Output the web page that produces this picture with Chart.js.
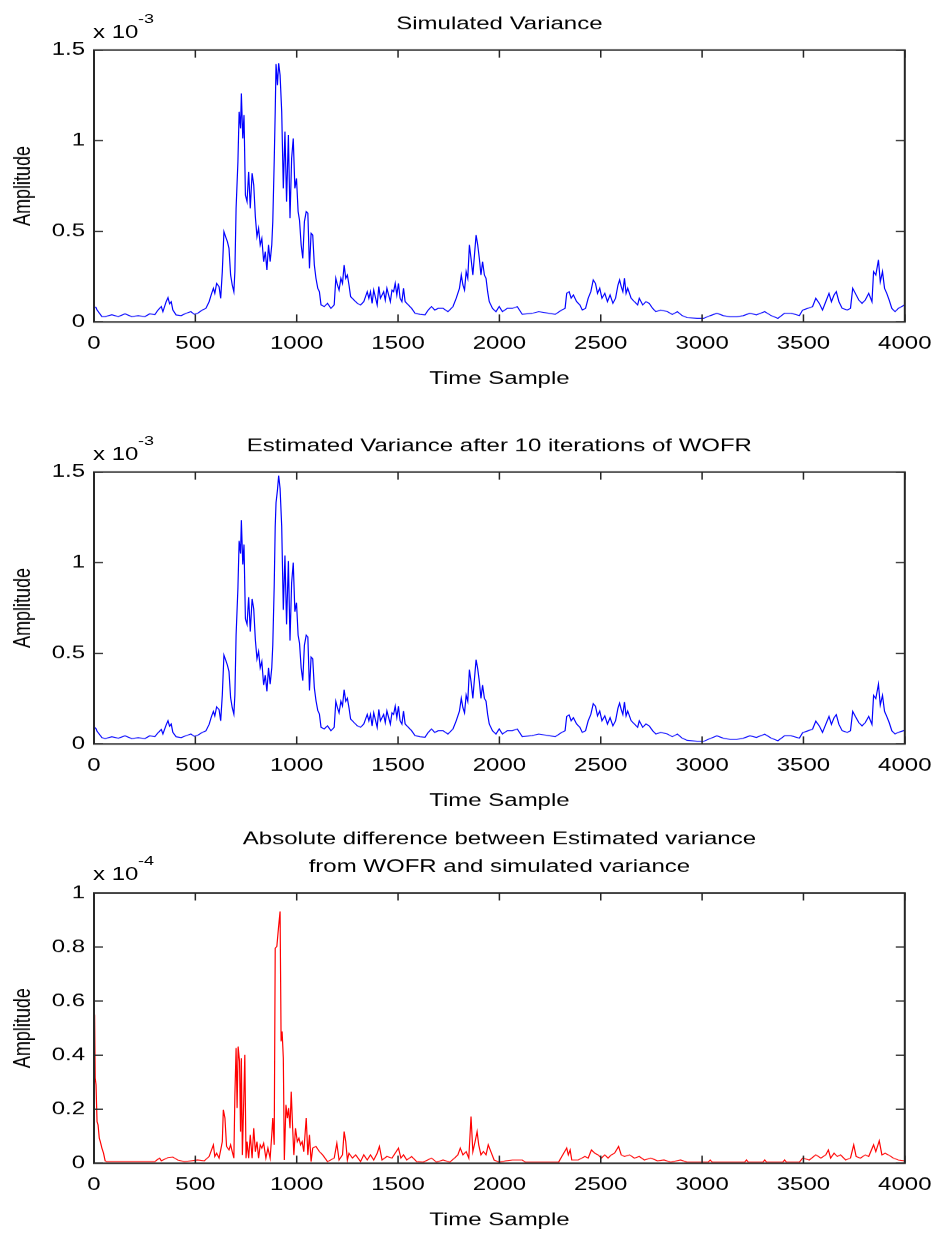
<!DOCTYPE html>
<html>
<head>
<meta charset="utf-8">
<script src="https://cdn.jsdelivr.net/npm/chart.js@4.4.1/dist/chart.umd.min.js"></script>
<style>
html,body{margin:0;padding:0;background:#fff;width:946px;height:1233px;overflow:hidden;font-family:"Liberation Sans",Arial,sans-serif;}
.panel{position:absolute;left:0;width:946px;transform:scaleY(0.75);transform-origin:0 0;}
.panel canvas{position:absolute;left:0;top:0;}
.mult{position:absolute;left:93px;font-size:24px;line-height:24px;color:#000;white-space:nowrap;}
.sup{position:absolute;left:138px;font-size:18px;line-height:18px;color:#000;white-space:nowrap;}
</style>
</head>
<body>
<div class="panel" style="top:0px;height:520px;"><canvas id="c1" width="946" height="520"></canvas><div class="mult" style="top:30px">x 10</div><div class="sup" style="top:15px">-3</div></div>
<div class="panel" style="top:422px;height:520px;"><canvas id="c2" width="946" height="520"></canvas><div class="mult" style="top:30px">x 10</div><div class="sup" style="top:15px">-3</div></div>
<div class="panel" style="top:815px;height:555px;"><canvas id="c3" width="946" height="555"></canvas><div class="mult" style="top:67px">x 10</div><div class="sup" style="top:52px">-4</div></div>
<script>
// ---------- data ----------
const xTicksLabels = ["0","500","1000","1500","2000","2500","3000","3500","4000"];
const titleSim = "Simulated Variance";
const titleEst = "Estimated Variance after 10 iterations of WOFR";
const titleDiff = ["Absolute difference between Estimated variance", "from WOFR and simulated variance"];

// time samples for panels 1 and 2
const timeA = [
  0,10,15,39,55,88,120,153,186,218,
  251,275,300,316,332,340,356,365,373,381,
  389,405,430,454,478,495,511,535,552,568,
  579,589,596,605,617,625,633,641,649,658,
  666,674,682,690,695,701,710,716,723,727,
  734,740,747,755,763,771,780,788,796,804,
  812,820,828,837,845,853,861,869,877,882,
  889,894,898,905,911,918,926,934,942,950,
  959,967,975,983,991,999,1007,1014,1022,1030,
  1038,1047,1055,1063,1071,1079,1087,1095,1104,1112,
  1120,1136,1152,1169,1185,1193,1201,1209,1218,1226,
  1234,1242,1250,1258,1266,1283,1299,1315,1331,1348,
  1356,1364,1372,1380,1397,1405,1413,1429,1437,1445,
  1462,1470,1478,1486,1494,1502,1510,1519,1527,1535,
  1551,1567,1584,1608,1633,1649,1665,1681,1698,1722,
  1746,1771,1787,1803,1812,1820,1828,1836,1844,1852,
  1860,1869,1877,1885,1893,1901,1909,1917,1926,1934,
  1942,1950,1966,1983,1999,2015,2039,2064,2088,2113,
  2161,2194,2243,2275,2308,2324,2332,2344,2354,2365,
  2381,2397,2409,2425,2438,2451,2463,2474,2484,2495,
  2506,2520,2533,2546,2560,2573,2585,2593,2601,2609,
  2617,2625,2633,2650,2666,2682,2690,2707,2723,2739,
  2756,2772,2796,2829,2853,2878,2902,2926,2975,3008,
  3040,3073,3105,3138,3171,3203,3236,3268,3309,3341,
  3374,3407,3439,3480,3496,3521,3545,3561,3578,3594,
  3610,3626,3638,3651,3662,3675,3691,3716,3732,3743,
  3756,3773,3789,3805,3822,3838,3846,3857,3870,3879,
  3890,3900,3911,3923,3936,3952,3968,3984,4000
];

// simulated variance (x 1e-3)
const simulatedVar = [
  0.085,0.080,0.066,0.030,0.030,0.040,0.030,0.045,0.030,0.035,
  0.030,0.045,0.040,0.066,0.085,0.057,0.112,0.134,0.100,0.112,
  0.066,0.039,0.035,0.048,0.057,0.042,0.048,0.066,0.075,0.112,
  0.153,0.186,0.158,0.213,0.195,0.131,0.278,0.498,0.471,0.443,
  0.406,0.259,0.204,0.167,0.278,0.627,0.884,1.160,1.068,1.261,
  1.013,1.142,0.700,0.664,0.829,0.627,0.820,0.756,0.581,0.471,
  0.517,0.425,0.461,0.333,0.388,0.287,0.425,0.333,0.425,0.553,
  0.884,1.160,1.423,1.307,1.427,1.362,1.160,0.737,1.050,0.664,
  1.031,0.572,0.903,1.013,0.737,0.792,0.609,0.560,0.425,0.351,
  0.553,0.609,0.600,0.296,0.489,0.480,0.314,0.241,0.186,0.167,
  0.094,0.085,0.103,0.075,0.094,0.241,0.204,0.176,0.241,0.213,
  0.314,0.241,0.259,0.204,0.140,0.121,0.103,0.094,0.112,0.167,
  0.131,0.167,0.103,0.176,0.094,0.195,0.131,0.167,0.121,0.186,
  0.112,0.176,0.167,0.213,0.149,0.213,0.131,0.112,0.186,0.112,
  0.094,0.075,0.048,0.042,0.039,0.066,0.085,0.066,0.075,0.075,
  0.057,0.085,0.131,0.186,0.259,0.204,0.176,0.278,0.241,0.425,
  0.351,0.259,0.370,0.480,0.425,0.351,0.259,0.333,0.259,0.241,
  0.167,0.112,0.075,0.057,0.085,0.057,0.075,0.075,0.085,0.042,
  0.048,0.057,0.048,0.042,0.066,0.075,0.158,0.167,0.131,0.149,
  0.112,0.094,0.066,0.075,0.131,0.167,0.232,0.213,0.158,0.186,
  0.131,0.158,0.112,0.149,0.103,0.131,0.204,0.232,0.195,0.167,
  0.241,0.158,0.186,0.131,0.112,0.094,0.131,0.094,0.112,0.103,
  0.075,0.057,0.066,0.057,0.042,0.057,0.035,0.024,0.020,0.020,
  0.035,0.048,0.035,0.029,0.029,0.035,0.048,0.039,0.057,0.035,
  0.020,0.048,0.048,0.035,0.066,0.075,0.085,0.131,0.103,0.066,
  0.112,0.158,0.112,0.149,0.167,0.112,0.075,0.066,0.075,0.186,
  0.158,0.121,0.103,0.121,0.158,0.112,0.278,0.259,0.342,0.222,
  0.278,0.186,0.158,0.121,0.075,0.057,0.075,0.085,0.094
];

// estimated variance after 10 WOFR iterations (x 1e-3)
const estimatedVar = [
  0.095,0.085,0.070,0.035,0.030,0.040,0.032,0.045,0.030,0.035,
  0.030,0.045,0.040,0.062,0.080,0.055,0.105,0.128,0.098,0.110,
  0.064,0.040,0.035,0.046,0.055,0.042,0.048,0.064,0.072,0.108,
  0.150,0.180,0.155,0.205,0.190,0.128,0.270,0.490,0.465,0.435,
  0.400,0.255,0.200,0.165,0.270,0.600,0.860,1.120,1.050,1.234,
  0.990,1.100,0.690,0.660,0.810,0.620,0.800,0.745,0.575,0.470,
  0.510,0.420,0.455,0.325,0.380,0.290,0.420,0.330,0.420,0.545,
  0.870,1.200,1.330,1.400,1.480,1.410,1.200,0.740,1.040,0.660,
  1.010,0.570,0.890,1.000,0.730,0.780,0.600,0.555,0.420,0.350,
  0.545,0.600,0.590,0.295,0.480,0.470,0.310,0.240,0.185,0.165,
  0.092,0.083,0.100,0.073,0.092,0.235,0.200,0.172,0.236,0.210,
  0.300,0.236,0.252,0.200,0.138,0.118,0.100,0.092,0.110,0.163,
  0.128,0.163,0.100,0.172,0.092,0.190,0.128,0.163,0.118,0.182,
  0.110,0.172,0.163,0.208,0.146,0.208,0.128,0.110,0.182,0.110,
  0.092,0.073,0.046,0.040,0.037,0.064,0.083,0.064,0.073,0.073,
  0.055,0.083,0.128,0.182,0.252,0.200,0.172,0.270,0.236,0.410,
  0.345,0.252,0.360,0.465,0.415,0.345,0.252,0.325,0.252,0.236,
  0.163,0.110,0.073,0.055,0.083,0.055,0.073,0.073,0.083,0.040,
  0.046,0.055,0.046,0.040,0.064,0.073,0.152,0.160,0.128,0.145,
  0.110,0.092,0.064,0.073,0.128,0.163,0.222,0.208,0.155,0.182,
  0.128,0.155,0.110,0.145,0.100,0.128,0.198,0.225,0.190,0.163,
  0.232,0.155,0.182,0.128,0.110,0.092,0.128,0.092,0.110,0.100,
  0.073,0.055,0.064,0.055,0.040,0.055,0.032,0.020,0.015,0.015,
  0.030,0.045,0.032,0.025,0.025,0.032,0.045,0.036,0.054,0.032,
  0.018,0.045,0.045,0.032,0.062,0.072,0.082,0.126,0.100,0.064,
  0.108,0.152,0.108,0.145,0.162,0.108,0.073,0.064,0.073,0.180,
  0.152,0.118,0.100,0.118,0.152,0.108,0.268,0.250,0.330,0.215,
  0.268,0.180,0.152,0.118,0.073,0.055,0.064,0.070,0.075
];

// time samples for panel 3
const timeC = [
  0,3,6,10,15,20,26,31,39,47,
  55,63,300,310,324,332,365,389,413,446,
  478,511,544,568,589,596,605,617,625,633,
  638,646,654,666,674,682,690,695,701,706,
  711,718,723,727,732,739,744,750,755,763,
  771,780,788,796,804,812,820,828,837,848,
  858,869,877,882,889,894,902,910,918,923,
  928,934,939,947,954,960,967,973,980,986,
  994,1003,1011,1019,1027,1035,1047,1055,1063,1071,
  1079,1095,1112,1128,1152,1185,1198,1209,1226,1234,
  1242,1250,1258,1275,1291,1315,1331,1348,1364,1380,
  1397,1408,1421,1445,1470,1491,1502,1514,1527,1543,
  1567,1592,1624,1665,1690,1722,1755,1779,1795,1807,
  1820,1836,1849,1860,1869,1880,1890,1898,1909,1921,
  1934,1945,1958,1974,1999,2031,2064,2113,2129,2292,
  2308,2332,2340,2349,2357,2389,2422,2438,2454,2471,
  2487,2503,2520,2536,2552,2568,2588,2601,2617,2642,
  2666,2690,2715,2747,2780,2812,2845,2894,2926,3030,
  3040,3050,3210,3219,3228,3300,3309,3318,3398,3407,
  3416,3480,3496,3529,3561,3586,3610,3623,3634,3651,
  3667,3683,3708,3732,3748,3760,3781,3805,3822,3846,
  3857,3874,3887,3903,3919,3944,3968,4000
];

// absolute difference (x 1e-4)
const absDiff = [
  0.330,0.550,0.315,0.290,0.154,0.142,0.093,0.080,0.056,0.037,
  0.009,0.006,0.006,0.012,0.019,0.009,0.021,0.023,0.012,0.006,
  0.009,0.012,0.009,0.025,0.068,0.025,0.037,0.019,0.049,0.080,
  0.198,0.167,0.062,0.049,0.068,0.043,0.019,0.253,0.426,0.204,
  0.432,0.377,0.117,0.389,0.031,0.241,0.401,0.019,0.080,0.019,
  0.105,0.019,0.130,0.043,0.080,0.019,0.068,0.056,0.074,0.019,
  0.056,0.019,0.105,0.167,0.068,0.796,0.802,0.870,0.932,0.451,
  0.488,0.389,0.012,0.216,0.167,0.204,0.130,0.265,0.130,0.031,
  0.130,0.080,0.093,0.068,0.080,0.043,0.167,0.031,0.105,0.006,
  0.056,0.062,0.043,0.031,0.006,0.019,0.074,0.012,0.031,0.117,
  0.080,0.012,0.037,0.019,0.031,0.006,0.031,0.012,0.031,0.012,
  0.037,0.062,0.012,0.025,0.019,0.043,0.056,0.019,0.031,0.012,
  0.025,0.006,0.004,0.019,0.004,0.012,0.004,0.019,0.031,0.056,
  0.031,0.043,0.019,0.173,0.043,0.080,0.117,0.068,0.031,0.043,
  0.031,0.068,0.043,0.012,0.004,0.009,0.012,0.012,0.004,0.004,
  0.025,0.056,0.031,0.049,0.012,0.012,0.025,0.019,0.049,0.037,
  0.031,0.019,0.031,0.019,0.031,0.037,0.062,0.031,0.025,0.031,
  0.019,0.025,0.012,0.019,0.009,0.012,0.004,0.012,0.004,0.004,
  0.012,0.004,0.004,0.012,0.004,0.004,0.012,0.004,0.004,0.012,
  0.004,0.004,0.019,0.012,0.031,0.019,0.031,0.049,0.019,0.037,
  0.025,0.031,0.012,0.019,0.068,0.025,0.019,0.031,0.025,0.068,
  0.043,0.083,0.031,0.037,0.031,0.019,0.012,0.009
];

// ---------- rendering ----------
const FONT = '"Liberation Sans", Arial, Helvetica, sans-serif';
Chart.defaults.font.family = FONT;

const frameTicks = {
  id: 'frameTicks',
  afterDatasetsDraw(chart) {
    const {ctx, chartArea: a, scales: {x, y}} = chart;
    ctx.save();
    ctx.strokeStyle = '#262626';
    ctx.lineWidth = 1.5;
    ctx.beginPath();
    x.ticks.forEach(t => {
      const px = x.getPixelForValue(t.value);
      ctx.moveTo(px, a.bottom); ctx.lineTo(px, a.bottom - 10);
      ctx.moveTo(px, a.top); ctx.lineTo(px, a.top + 10);
    });
    y.ticks.forEach(t => {
      const py = y.getPixelForValue(t.value);
      ctx.moveTo(a.left, py); ctx.lineTo(a.left + 9, py);
      ctx.moveTo(a.right, py); ctx.lineTo(a.right - 9, py);
    });
    ctx.stroke();
    ctx.lineWidth = 2;
    ctx.strokeRect(a.left, a.top, a.right - a.left, a.bottom - a.top);
    ctx.restore();
  }
};

function makePanel(id, times, values, color, yMax, yStep, title, titleLH, titlePad) {
  const font = {family: FONT, size: 24, weight: 'normal'};
  return new Chart(document.getElementById(id), {
    type: 'line',
    data: {
      datasets: [{
        data: times.map((t, i) => ({x: t, y: values[i]})),
        borderColor: color,
        borderWidth: 1.2,
        pointRadius: 0,
        fill: false,
        tension: 0
      }]
    },
    options: {
      responsive: false,
      animation: false,
      devicePixelRatio: 1,
      layout: {padding: {left: 0, right: 33, top: 0, bottom: 0}},
      plugins: {
        legend: {display: false},
        tooltip: {enabled: false},
        title: {
          display: true, fullSize: false, text: title, color: '#000',
          font: {family: FONT, size: 24, weight: 'normal', lineHeight: titleLH},
          padding: titlePad
        }
      },
      scales: {
        x: {
          type: 'linear', min: 0, max: 4000,
          grid: {display: false, drawTicks: false},
          border: {display: false},
          ticks: {
            stepSize: 500, autoSkip: false, maxRotation: 0, minRotation: 0,
            padding: 14.5, color: '#000', font: font,
            callback: (v) => xTicksLabels[Math.round(v / 500)]
          },
          title: {display: true, text: 'Time Sample', color: '#000', font: font, padding: {top: 0, bottom: 0.5}},
          afterFit: (s) => { s.height = 90.7; }
        },
        y: {
          type: 'linear', min: 0, max: yMax,
          grid: {display: false, drawTicks: false},
          border: {display: false},
          ticks: {
            stepSize: yStep, padding: 9, color: '#000', font: font,
            callback: (v) => String(Math.round(v * 10) / 10)
          },
          title: {display: true, text: 'Amplitude', color: '#000', font: font, padding: {top: 9, bottom: 0}},
          afterFit: (s) => { s.width = 94; }
        }
      }
    },
    plugins: [frameTicks]
  });
}

makePanel('c1', timeA, simulatedVar, '#0000ff', 1.5, 0.5, titleSim, 1.2, {top: 17.5, bottom: 20.4});
makePanel('c2', timeA, estimatedVar, '#0000ff', 1.5, 0.5, titleEst, 1.2, {top: 17.5, bottom: 20.4});
makePanel('c3', timeC, absDiff, '#ff0000', 1, 0.2, titleDiff, 1.55, {top: 13.3, bottom: 16.3});
</script>
</body>
</html>
